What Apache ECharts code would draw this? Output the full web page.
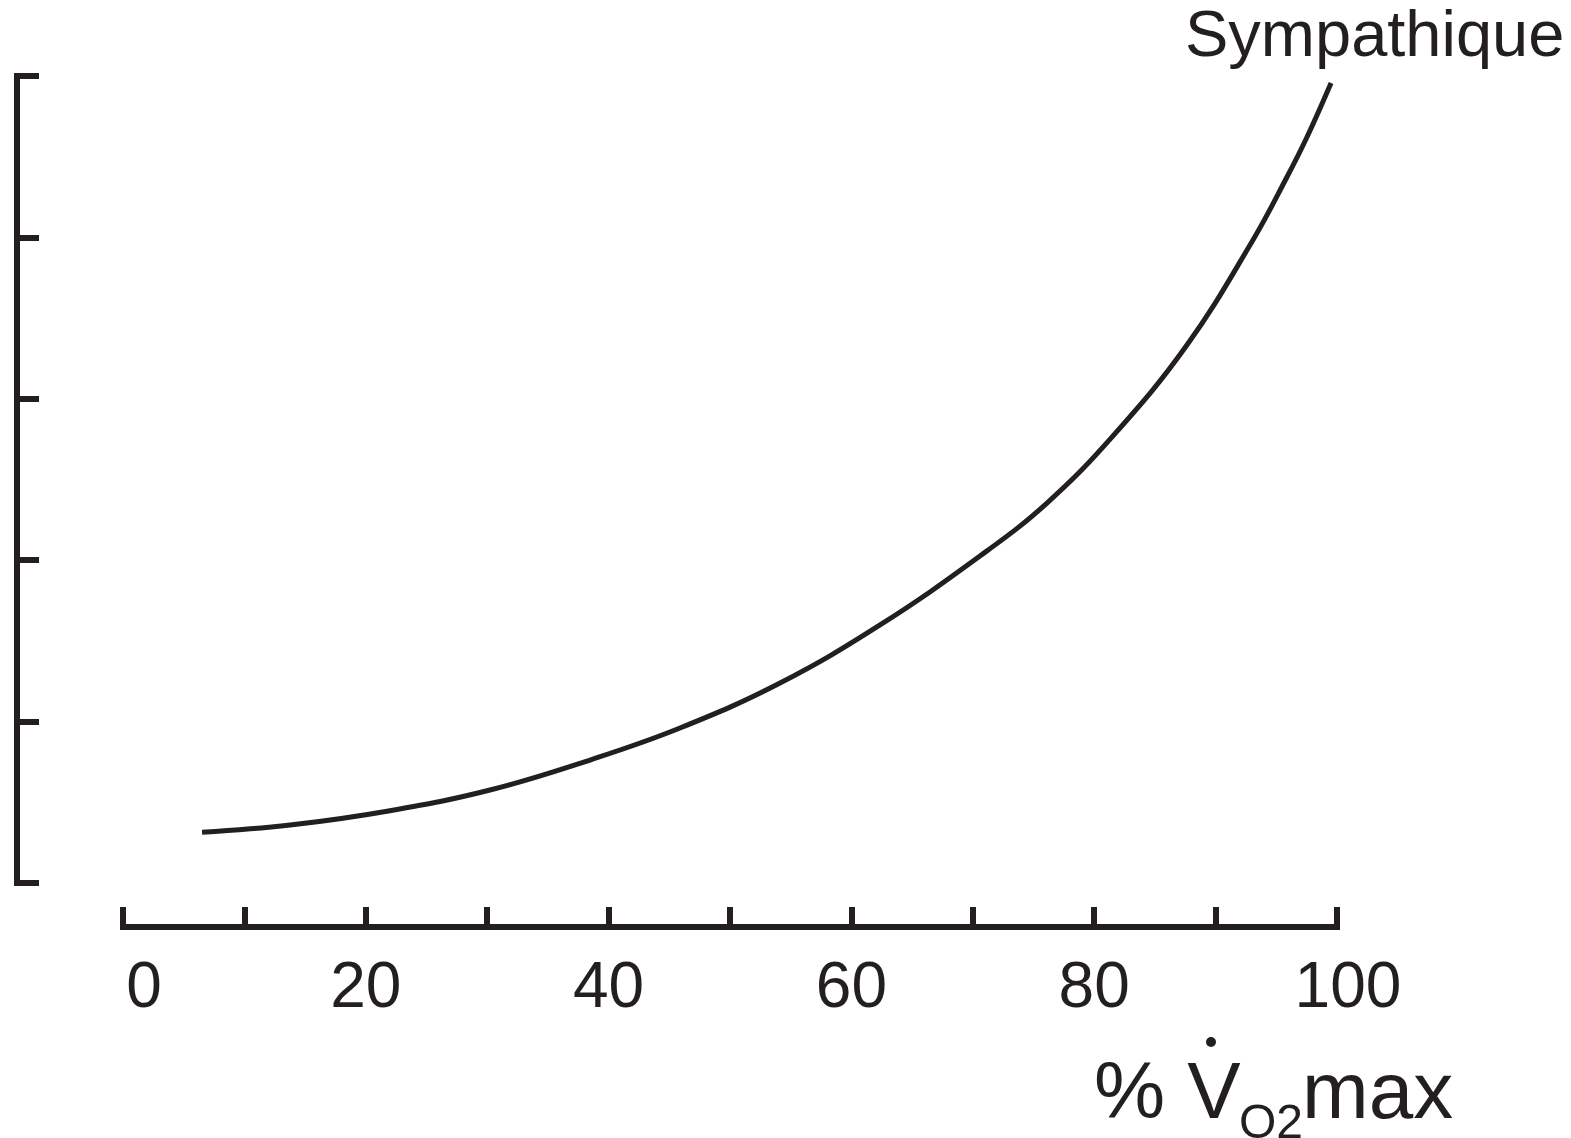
<!DOCTYPE html>
<html>
<head>
<meta charset="utf-8">
<script src="https://cdn.jsdelivr.net/npm/echarts@6/dist/echarts.min.js"></script>
<style>
html,body{margin:0;padding:0;background:#fff;}
#c{width:1571px;height:1138px;}
</style>
</head>
<body>
<div id="c"></div>
<script>
// Data
var xValues = [6.51, 13.76, 21.99, 30.23, 38.47, 45.88, 54.12, 62.36, 70.59, 76.11, 81.55, 87.64, 93.08, 95.88, 97.53, 99.51];
var yValues = [0.314, 0.359, 0.448, 0.576, 0.762, 0.960, 1.239, 1.599, 2.026, 2.354, 2.770, 3.333, 3.984, 4.374, 4.622, 4.957];
var xTickLabels = [0, 20, 40, 60, 80, 100];
var seriesName = 'Sympathique';
var xTitleMain = '% V';
var xTitleSub = 'O2';
var xTitleEnd = 'max';

var INK = '#231f20';
var FONT = '"Liberation Sans", Arial, sans-serif';

var data = xValues.map(function (x, i) { return [x, yValues[i]]; });

var chart = echarts.init(document.getElementById('c'), null, {renderer: 'canvas'});
chart.setOption({
  backgroundColor: '#ffffff',
  animation: false,
  grid: {left: 123, right: 234, top: 76, bottom: 255, containLabel: false},
  xAxis: {
    type: 'value', min: 0, max: 100, interval: 10, position: 'bottom', offset: 44,
    axisLine: {show: true, onZero: false, lineStyle: {color: INK, width: 6, cap: 'square'}},
    axisTick: {show: true, inside: true, length: 20, lineStyle: {color: INK, width: 6}},
    splitLine: {show: false},
    axisLabel: {
      show: true, margin: 30, color: INK, fontFamily: FONT, fontSize: 64,
      formatter: function (v) {
        if (xTickLabels.indexOf(v) < 0) return '';
        if (v === 0) return '{z|0}';
        if (v === 100) return '{h|100}';
        return String(v);
      },
      rich: {
        z: {fontFamily: FONT, fontSize: 64, color: INK, padding: [0, 0, 0, 42]},
        h: {fontFamily: FONT, fontSize: 64, color: INK, padding: [0, 0, 0, 22]}
      }
    }
  },
  yAxis: {
    type: 'value', min: 0, max: 5, interval: 1, position: 'left', offset: 106,
    axisLine: {show: true, onZero: false, lineStyle: {color: INK, width: 6, cap: 'square'}},
    axisTick: {show: true, inside: true, length: 22, lineStyle: {color: INK, width: 6}},
    splitLine: {show: false},
    axisLabel: {show: false}
  },
  series: [{
    name: seriesName, type: 'line', data: data, smooth: 0.4, showSymbol: false,
    lineStyle: {color: INK, width: 5}
  }],
  graphic: [
    {type: 'text', x: 1185, y: 38, style: {text: seriesName, font: '65px ' + FONT, fill: INK, verticalAlign: 'middle'}},
    {type: 'text', x: 1094, y: 1096, style: {text: xTitleMain, font: '80px ' + FONT, fill: INK, verticalAlign: 'middle'}},
    {type: 'text', x: 1239, y: 1125, style: {text: xTitleSub, font: '48px ' + FONT, fill: INK, verticalAlign: 'middle'}},
    {type: 'text', x: 1302, y: 1096, style: {text: xTitleEnd, font: '80px ' + FONT, fill: INK, verticalAlign: 'middle'}},
    {type: 'circle', shape: {cx: 1211, cy: 1042, r: 5}, style: {fill: INK}}
  ]
});
</script>
</body>
</html>
